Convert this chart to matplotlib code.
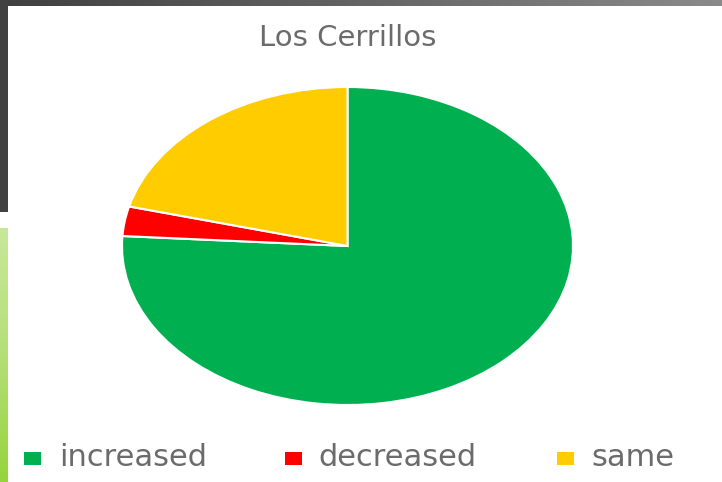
# Los Cerrillos pie chart (screenshot with window borders)

import numpy as np
import matplotlib.pyplot as plt
from matplotlib.colors import LinearSegmentedColormap
from matplotlib.patches import Rectangle

labels = ["increased", "decreased", "same"]
values = [76, 3, 21]
colors = ["#00B050", "#FF0000", "#FFCC00"]
TITLE = "Los Cerrillos"

plt.rcParams.update({"font.family": ["DejaVu Sans"]})
W, H = 722, 482
TXT = "#6b6b6b"
fig = plt.figure(figsize=(W / 100, H / 100), dpi=100, facecolor="white")

# window border artefacts of the screenshot (pixel coords, y down)
bg = fig.add_axes([0, 0, 1, 1], zorder=0)
bg.axis("off")
bg.imshow(np.linspace(0, 1, 256).reshape(1, -1),
          cmap=LinearSegmentedColormap.from_list("g", ["#3f3f3f", "#8a8a8a"]),
          extent=[0, W, 6, 0], aspect="auto")
bg.add_patch(Rectangle((0, 0), 8, 212, color="#414141", lw=0))
bg.imshow(np.linspace(0, 1, 256).reshape(-1, 1),
          cmap=LinearSegmentedColormap.from_list("s", ["#c8e89a", "#b4df78", "#95d43c"]),
          extent=[0, 8, H, 228], aspect="auto")

# legend drawn by hand so it spreads across the width like the original
x_handle = [24, 285, 557]
x_text = [59, 318, 591]
for xh, xt, lab, c in zip(x_handle, x_text, labels, colors):
    bg.add_patch(Rectangle((xh, 452), 17, 13, color=c, lw=0))
    bg.text(xt, 458, lab, ha="left", va="center", fontsize=22, color=TXT)
bg.set_xlim(0, W); bg.set_ylim(H, 0)

fig.text(348 / W, 1 - 38 / H, TITLE, ha="center", va="center", fontsize=21, color=TXT)

# stretched (elliptical) pie
ax = fig.add_axes([122 / W, 1 - 405 / H, 451 / W, 318 / H], zorder=1)
ax.pie(values, colors=colors, startangle=90, counterclock=False,
       wedgeprops=dict(edgecolor="white", linewidth=1.5))
ax.set_aspect("auto")
ax.set_xlim(-1.0, 1.0); ax.set_ylim(-1.0, 1.0)

fig.savefig("out.png", dpi=100, facecolor="white")
